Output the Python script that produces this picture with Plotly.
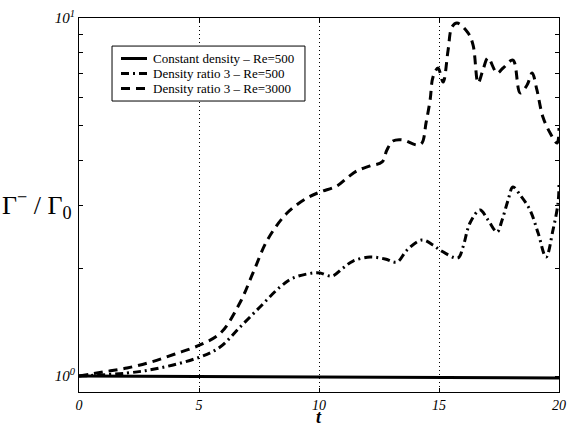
import plotly.graph_objects as go

# Constant density - Re=500
t_const = [0, 5, 10, 15, 20]
v_const = [1.0, 0.997, 0.994, 0.99, 0.987]

# Density ratio 3 - Re=500 (dash-dot)
t_r500 = [0, 2.0, 3.38, 5.04, 5.88, 6.71, 7.54, 8.38, 8.92, 9.75, 10.04, 10.54, 11.0, 11.42,
          12.13, 12.75, 13.25, 13.67, 14.29, 14.75, 15.04, 15.79, 16.0, 16.29, 16.71, 17.04,
          17.42, 17.63, 17.88, 18.08, 18.38, 18.79, 19.13, 19.46, 19.75, 19.96, 20.0]
v_r500 = [1.0, 1.019, 1.053, 1.130, 1.205, 1.370, 1.559, 1.773, 1.878, 1.940, 1.940, 1.902,
          2.003, 2.095, 2.149, 2.123, 2.081, 2.249, 2.399, 2.322, 2.249, 2.137, 2.293, 2.675,
          2.910, 2.729, 2.525, 2.729, 3.103, 3.373, 3.204, 2.910, 2.508, 2.149, 2.558, 3.042,
          3.418]

# Density ratio 3 - Re=3000 (dashed)
t_r3000 = [0, 1.0, 2.0, 3.0, 4.0, 5.04, 5.9, 6.7, 7.25, 7.85, 8.67, 9.5, 10.04, 10.75, 11.17,
           11.58, 12.13, 12.63, 12.83, 13.08, 13.5, 14.08, 14.29, 14.46, 14.63, 14.75, 14.96,
           15.17, 15.38, 15.54, 15.75, 16.21, 16.42, 16.63, 16.83, 17.04, 17.42, 17.67, 18.08,
           18.38, 18.67, 18.88, 19.08, 19.33, 19.63, 19.92, 20.0]
v_r3000 = [1.0, 1.026, 1.053, 1.094, 1.152, 1.221, 1.319, 1.599, 1.940, 2.399, 2.852, 3.142,
           3.265, 3.395, 3.573, 3.741, 3.862, 3.963, 4.279, 4.532, 4.563, 4.419, 4.477, 5.093,
           5.902, 6.843, 7.249, 6.624, 8.144, 9.436, 9.683, 9.082, 8.405, 6.583, 7.155, 7.730,
           7.020, 7.249, 7.630, 6.177, 6.498, 7.020, 6.295, 5.289, 4.772, 4.477, 4.93]

series_names = ["Constant density \u2013 Re=500",
                "Density ratio 3 \u2013 Re=500",
                "Density ratio 3 \u2013 Re=3000"]

x_ticks = [0, 5, 10, 15, 20]
x_ticklabels = ["0", "5", "10", "15", "20"]
y_ticks = [1, 2, 3, 4, 5, 6, 7, 8, 9, 10]
y_ticklabels = ["10<sup>0</sup>", "", "", "", "", "", "", "", "", "10<sup>1</sup>"]

SERIF = "Liberation Serif, Times New Roman, serif"
dashes = ["solid", "8px,4px,2px,4px", "9px,6px"]

fig = go.Figure()
fig.add_trace(go.Scatter(x=t_const, y=v_const, mode="lines", name=series_names[0],
                         showlegend=False, line=dict(color="black", width=3)))
fig.add_trace(go.Scatter(x=t_r500, y=v_r500, mode="lines", line_shape="spline",
                         name=series_names[1], showlegend=False,
                         line=dict(color="black", width=3, dash=dashes[1])))
fig.add_trace(go.Scatter(x=t_r3000, y=v_r3000, mode="lines", line_shape="spline",
                         name=series_names[2], showlegend=False,
                         line=dict(color="black", width=3, dash=dashes[2])))

fig.update_layout(
    width=575, height=429, autosize=False,
    margin=dict(l=79, r=16, t=18, b=37, autoexpand=False),
    paper_bgcolor="white", plot_bgcolor="white",
    font=dict(family=SERIF, color="black", size=14),
    showlegend=False,
    xaxis=dict(range=[0, 20], tickvals=x_ticks, automargin=False,
               ticktext=["<i>" + s + "</i>" for s in x_ticklabels],
               ticks="inside", ticklen=4, tickcolor="black", ticklabelstandoff=0,
               showline=True, linecolor="black", linewidth=1, mirror="ticks",
               showgrid=True, gridcolor="black", gridwidth=1, griddash="1px,3px",
               zeroline=False, tickfont=dict(size=14, family=SERIF)),
    yaxis=dict(type="log", range=[-0.0447, 1.0], tickvals=y_ticks, automargin=False,
               ticktext=["<i>" + s + "</i>" if s else "" for s in y_ticklabels],
               ticks="inside", ticklen=4, tickcolor="black",
               showline=True, linecolor="black", linewidth=1, mirror="ticks",
               showgrid=False, zeroline=False, tickfont=dict(size=15, family=SERIF)),
)

# Legend box (drawn manually to match the compact original layout)
fig.add_shape(type="rect", xref="paper", yref="paper", x0=0.0688, x1=0.4708,
              y0=0.778, y1=0.925, line=dict(color="black", width=1), fillcolor="white",
              layer="above")
rows_y = [0.8917, 0.8516, 0.8115]
for name, dash, yy in zip(series_names, dashes, rows_y):
    fig.add_shape(type="line", xref="paper", yref="paper", x0=0.0875, x1=0.1417,
                  y0=yy, y1=yy, line=dict(color="black", width=3, dash=dash), layer="above")
    fig.add_annotation(text=name, xref="paper", yref="paper", x=0.152, y=yy,
                       xanchor="left", yanchor="middle", showarrow=False, borderpad=0,
                       font=dict(size=13, family=SERIF))

# Axis titles
fig.add_annotation(text="\u0393<sup>\u2212</sup> / \u0393<sub>0</sub>", xref="paper", yref="paper",
                   x=-0.01, y=0.5, xanchor="right", yanchor="middle", showarrow=False,
                   font=dict(size=26, family=SERIF))
fig.add_annotation(text="<b><i>t</i></b>", xref="paper", yref="paper",
                   x=0.5, y=-0.0963, xanchor="center", yanchor="bottom", showarrow=False,
                   borderpad=0, font=dict(size=18, family=SERIF))

fig.write_html("out.html",
               config={"displayModeBar": False, "responsive": False},
               post_script="document.body.style.margin='0';document.body.style.padding='0';")
